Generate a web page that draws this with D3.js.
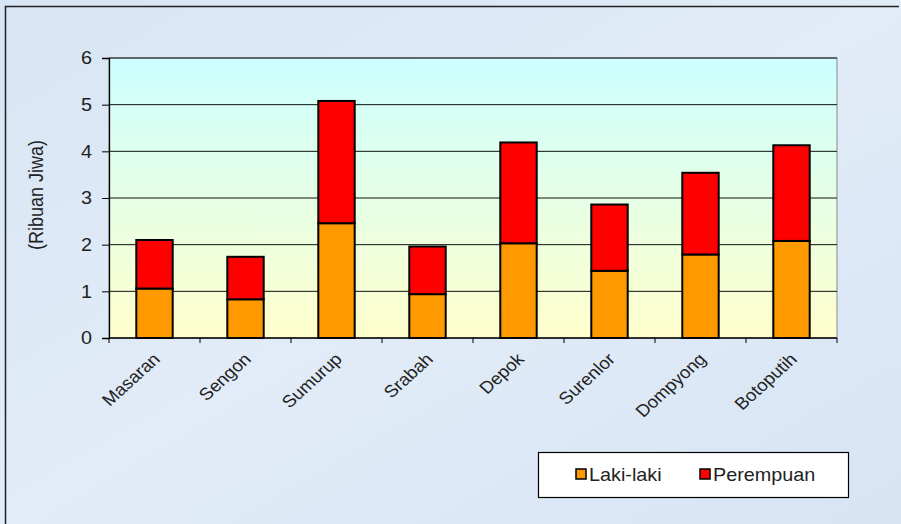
<!DOCTYPE html>
<html><head><meta charset="utf-8">
<script src="https://cdn.jsdelivr.net/npm/d3@7"></script>
<style>body{margin:0;background:#dfeaf6;}svg{display:block;}</style>
</head><body>
<script>
const categories = ["Masaran","Sengon","Sumurup","Srabah","Depok","Surenlor","Dompyong","Botoputih"];
const lakiLaki  = [1.06, 0.83, 2.46, 0.94, 2.03, 1.44, 1.79, 2.08];
const perempuan = [1.04, 0.91, 2.62, 1.02, 2.16, 1.42, 1.75, 2.05];
const seriesNames = ["Laki-laki","Perempuan"];
const seriesColors = ["#ff9900","#ff0000"];
const yTicks = [0,1,2,3,4,5,6];
const yTitle = "(Ribuan Jiwa)";

const W = 901, H = 524;
const FONT = "Arial, 'Liberation Sans', sans-serif";
const SX = 1.1; // horizontal text stretch seen in the reference
const m = {left:109, right:64, top:58, bottom:186};
const svg = d3.select("body").append("svg").attr("width",W).attr("height",H);
const defs = svg.append("defs");
const bg = defs.append("linearGradient").attr("id","bg").attr("x1",0).attr("y1",0).attr("x2",1).attr("y2",1);
bg.append("stop").attr("offset","0%").attr("stop-color","#d7e5f4");
bg.append("stop").attr("offset","50%").attr("stop-color","#e2ecf8");
bg.append("stop").attr("offset","100%").attr("stop-color","#d6e4f4");
const pg = defs.append("linearGradient").attr("id","pg").attr("x1",0).attr("y1",0).attr("x2",0).attr("y2",1);
pg.append("stop").attr("offset","0%").attr("stop-color","#ccffff");
pg.append("stop").attr("offset","100%").attr("stop-color","#ffffcc");

svg.append("rect").attr("x",0).attr("y",0).attr("width",W).attr("height",H).attr("fill","url(#bg)");
svg.append("path").attr("d",`M5.5,${H}V6.5H${W-2}`).attr("fill","none").attr("stroke","#222").attr("stroke-width",1.5);

const iw = W - m.left - m.right, ih = H - m.top - m.bottom;
const x = d3.scaleBand().domain(categories).range([m.left, m.left+iw]).paddingInner(0.6).paddingOuter(0.3);
const xb = d3.scaleBand().domain(categories).range([m.left, m.left+iw]);
const y = d3.scaleLinear().domain([0,6]).range([m.top+ih, m.top]);

svg.append("rect").attr("x",m.left).attr("y",m.top).attr("width",iw).attr("height",ih)
  .attr("fill","url(#pg)").attr("stroke","#888").attr("stroke-width",1);

// gridlines
svg.append("g").selectAll("line").data(yTicks.filter(d=>d>0)).join("line")
  .attr("x1",m.left).attr("x2",m.left+iw).attr("y1",d=>y(d)).attr("y2",d=>y(d))
  .attr("stroke","#111").attr("stroke-width",1);

// stacked bars
const data = categories.map((c,i)=>({cat:c, l:lakiLaki[i], p:perempuan[i]}));
const g = svg.append("g");
g.selectAll("rect.l").data(data).join("rect").attr("class","l")
  .attr("x",d=>x(d.cat)).attr("width",x.bandwidth())
  .attr("y",d=>y(d.l)).attr("height",d=>y(0)-y(d.l))
  .attr("fill",seriesColors[0]).attr("stroke","#000").attr("stroke-width",2);
g.selectAll("rect.p").data(data).join("rect").attr("class","p")
  .attr("x",d=>x(d.cat)).attr("width",x.bandwidth())
  .attr("y",d=>y(d.l+d.p)).attr("height",d=>y(d.l)-y(d.l+d.p))
  .attr("fill",seriesColors[1]).attr("stroke","#000").attr("stroke-width",2);

// y axis
const ya = svg.append("g").attr("transform",`translate(${m.left},0)`)
  .call(d3.axisLeft(y).tickValues(yTicks).tickSize(7).tickPadding(10).tickFormat(d3.format("d")));
ya.select(".domain").attr("stroke","#000").attr("stroke-width",1.3);
ya.selectAll(".tick line").attr("stroke","#000");
ya.selectAll("text").attr("font-family",FONT).attr("font-size",18).attr("fill","#222")
  .attr("transform",`translate(-17,0) scale(${SX},1) translate(17,0)`);

// x axis
const xa = svg.append("g").attr("transform",`translate(0,${m.top+ih})`);
xa.append("line").attr("x1",m.left).attr("x2",m.left+iw).attr("stroke","#000").attr("stroke-width",1.3);
xa.selectAll("line.t").data(categories.concat(["_end"])).join("line").attr("class","t")
  .attr("x1",(d,i)=> i<categories.length ? xb(d) : m.left+iw).attr("x2",(d,i)=> i<categories.length ? xb(d) : m.left+iw)
  .attr("y1",0).attr("y2",5).attr("stroke","#000");
xa.selectAll("text").data(categories).join("text")
  .attr("transform",d=>`translate(${x(d)+x.bandwidth()/2+2},${18}) scale(${SX},1) rotate(-45)`)
  .attr("text-anchor","end").attr("dy","0.35em")
  .attr("font-family",FONT).attr("font-size",17).attr("fill","#222")
  .text(d=>d);

// y title
svg.append("text").attr("transform",`translate(43,${m.top+ih/2-3}) scale(${SX},1) rotate(-90)`)
  .attr("text-anchor","middle").attr("font-family",FONT)
  .attr("font-size",18).attr("fill","#222").text(yTitle);

// legend
const lg = svg.append("g").attr("transform","translate(538,452)");
lg.append("rect").attr("x",0.5).attr("y",0.5).attr("width",310).attr("height",45)
  .attr("fill","#fff").attr("stroke","#000").attr("stroke-width",1.2);
const lx = [38, 162];
seriesNames.forEach((s,i)=>{
  lg.append("rect").attr("x",lx[i]).attr("y",17).attr("width",10).attr("height",10)
    .attr("fill",seriesColors[i]).attr("stroke","#000").attr("stroke-width",1.5);
  lg.append("text").attr("transform",`translate(${lx[i]+13},23) scale(${SX},1)`).attr("dy","0.35em")
    .attr("font-family",FONT).attr("font-size",18).attr("fill","#222").text(s);
});
</script>
</body></html>
